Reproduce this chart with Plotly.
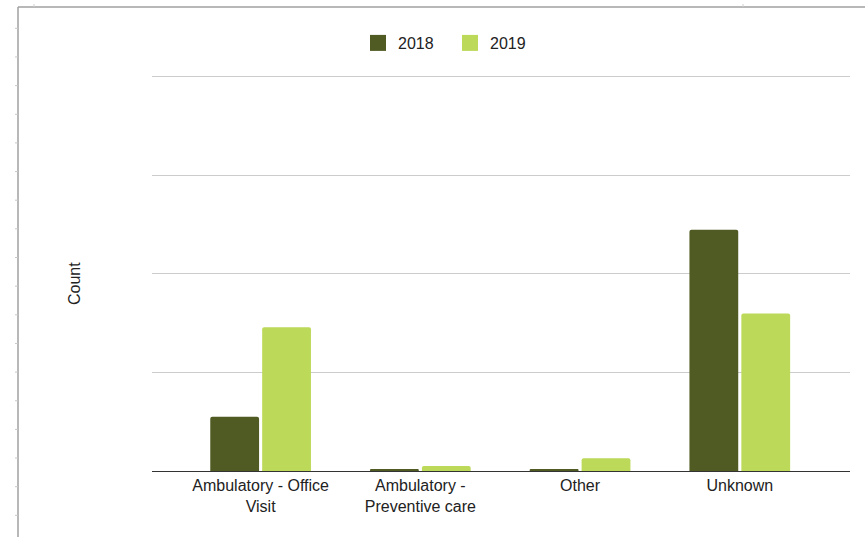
import plotly.graph_objects as go

categories = ["Ambulatory - Office<br>Visit", "Ambulatory -<br>Preventive care", "Other", "Unknown"]
series_names = ["2018", "2019"]
values_2018 = [55, 2, 2, 245]
values_2019 = [146, 5, 13, 160]
colors = ["#4f5b23", "#bcd95a"]

W, H = 865, 537
L, R, T, B = 152, 15, 73, 66
FONT = "Arial, Liberation Sans, sans-serif"
FS = 16

fig = go.Figure()
xs = list(range(len(categories)))
for name, vals, col in zip(series_names, [values_2018, values_2019], colors):
    fig.add_trace(go.Bar(x=xs, y=vals, name=name, showlegend=False,
                         marker=dict(color=col, line=dict(width=0), cornerradius=2)))
# legend entries with larger square swatches
for name, col in zip(series_names, colors):
    fig.add_trace(go.Scatter(x=[None], y=[None], mode="markers", name=name,
                             marker=dict(symbol="square", size=16, color=col,
                                         line=dict(width=0))))

fig.update_layout(
    width=W, height=H,
    margin=dict(l=L, r=R, t=T, b=B, pad=0),
    paper_bgcolor="white", plot_bgcolor="white",
    font=dict(family=FONT, size=FS, color="#222222"),
    barmode="group", bargap=0.35, bargroupgap=0.06,
    showlegend=True,
    legend=dict(orientation="h", xref="container", yref="container",
                x=358 / W, xanchor="left", y=1 - 43 / H, yanchor="middle",
                font=dict(size=FS, color="#222222"), entrywidth=47, itemsizing="trace",
                bgcolor="rgba(0,0,0,0)"),
    xaxis=dict(tickmode="array", tickvals=xs, ticktext=categories,
               range=[-0.68, 3.69], showgrid=False, showline=True, linecolor="#333333",
               linewidth=1, ticks="", zeroline=False, tickfont=dict(size=FS, color="#222222")),
    yaxis=dict(range=[0, 404], tickvals=[100, 200, 300, 400], showticklabels=False, showgrid=True,
               gridcolor="#cccccc", gridwidth=1, zeroline=False, ticks=""),
)

# "Count" axis title
fig.add_annotation(text="Count", xref="paper", yref="paper",
                   x=(74 - L) / (W - L - R), y=1 - (284 - T) / (H - T - B),
                   textangle=-90, showarrow=False, xanchor="center", yanchor="middle",
                   font=dict(size=FS, color="#222222", family=FONT))

# decorative frame (screenshot border with ruler ticks)
PW, PH = W - L - R, H - T - B
frame_col = "#a0a0a0"
fig.add_shape(type="line", xref="paper", yref="paper",
              x0=(18 - L) / PW, x1=(18 - L) / PW,
              y0=-B / PH, y1=1 + (T - 7) / PH,
              line=dict(color=frame_col, width=1.5))
fig.add_shape(type="line", xref="paper", yref="paper",
              x0=(18 - L) / PW, x1=1 + R / PW,
              y0=1 + (T - 7) / PH, y1=1 + (T - 7) / PH,
              line=dict(color=frame_col, width=1.5))
for k in range(18):
    yy = 28.3 + k * 28.65
    yp = 1 - (yy - T) / PH
    fig.add_shape(type="line", xref="paper", yref="paper",
                  x0=(15 - L) / PW, x1=(18 - L) / PW, y0=yp, y1=yp,
                  line=dict(color="#c8c8c8", width=1))
for xx in [34, 743]:
    xp = (xx - L) / PW
    fig.add_shape(type="line", xref="paper", yref="paper",
                  x0=xp, x1=xp, y0=1 + (T - 4) / PH, y1=1 + (T - 7) / PH,
                  line=dict(color="#d0d0d0", width=1))

fig.write_html("out.html")
